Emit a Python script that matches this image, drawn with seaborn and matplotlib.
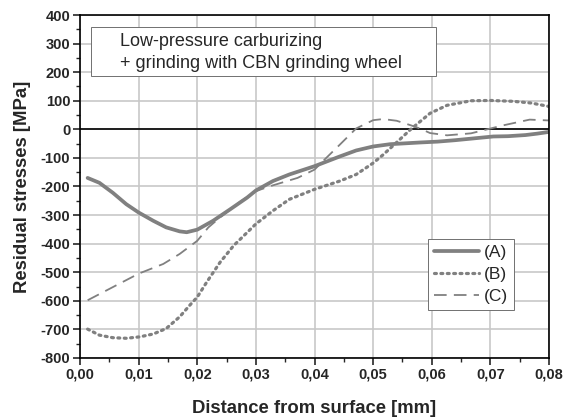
import numpy as np
import pandas as pd
import matplotlib
matplotlib.use("Agg")
import matplotlib.pyplot as plt
import matplotlib.ticker as mticker
from matplotlib.patches import Rectangle
import seaborn as sns

# ---- data (distance in mm, stress in MPa) ----
x_a = [0.0013, 0.0033, 0.0056, 0.0079, 0.0100, 0.0125, 0.0147, 0.0170, 0.0182, 0.0200,
       0.0227, 0.0256, 0.0285, 0.0300, 0.0329, 0.0357, 0.0400, 0.0443, 0.0471, 0.0500,
       0.0529, 0.0580, 0.0610, 0.0640, 0.0670, 0.0705, 0.0730, 0.0760, 0.0780, 0.0800]
y_a = [-170, -187, -222, -262, -291, -320, -343, -357, -360, -351,
       -320, -280, -239, -214, -181, -158, -129, -95, -74, -60,
       -52, -46, -43, -38, -32, -25, -24, -20, -15, -9]

x_b = [0.0013, 0.0033, 0.0056, 0.0079, 0.0102, 0.0125, 0.0147, 0.0170, 0.0187, 0.0200,
       0.0216, 0.0239, 0.0262, 0.0285, 0.0300, 0.0329, 0.0357, 0.0400, 0.0443, 0.0471,
       0.0500, 0.0517, 0.0540, 0.0563, 0.0597, 0.0626, 0.0667, 0.0700, 0.0739, 0.0770,
       0.0800]
y_b = [-699, -720, -729, -731, -726, -716, -697, -656, -616, -587,
       -535, -465, -407, -361, -331, -285, -245, -210, -181, -158,
       -118, -89, -46, -2, 56, 84, 100, 101, 98, 92,
       80]

x_c = [0.0013, 0.0056, 0.0100, 0.0142, 0.0170, 0.0200, 0.0219, 0.0235, 0.0270, 0.0300,
       0.0329, 0.0371, 0.0400, 0.0420, 0.0443, 0.0471, 0.0500, 0.0517, 0.0540, 0.0563,
       0.0580, 0.0597, 0.0626, 0.0667, 0.0722, 0.0767, 0.0800]
y_c = [-598, -552, -505, -471, -436, -390, -343, -315, -258, -216,
       -196, -170, -141, -100, -54, 3, 32, 36, 30, 15,
       3, -13, -21, -14, 14, 34, 31]

labels = ["(A)", "(B)", "(C)"]
note = "Low-pressure carburizing\n+ grinding with CBN grinding wheel"

df = pd.concat([
    pd.DataFrame({"x": x_a, "y": y_a, "series": labels[0]}),
    pd.DataFrame({"x": x_b, "y": y_b, "series": labels[1]}),
    pd.DataFrame({"x": x_c, "y": y_c, "series": labels[2]}),
])

sns.set_style("white")
plt.rcParams["font.family"] = ["Liberation Sans", "DejaVu Sans"]

fig = plt.figure(figsize=(5.65, 4.19), dpi=100)
ax = fig.add_axes([0.1416, 0.1456, 0.8301, 0.8186])

gray = "#808080"
styles = {
    "(A)": dict(lw=2.7, ls="-"),
    "(B)": dict(lw=2.3, ls=(0, (0.6, 1.4)), dash_capstyle="round"),
    "(C)": dict(lw=1.3, ls=(0, (7, 4))),
}
for lab in labels:
    sub = df[df["series"] == lab]
    sns.lineplot(data=sub, x="x", y="y", ax=ax, color=gray, label=lab,
                 estimator=None, sort=False, **styles[lab])

ax.axhline(0, color="black", lw=1.2, zorder=1)

ax.set_xlim(0, 0.08)
ax.set_ylim(-800, 400)
ax.xaxis.set_major_locator(mticker.MultipleLocator(0.01))
ax.xaxis.set_minor_locator(mticker.MultipleLocator(0.005))
ax.yaxis.set_major_locator(mticker.MultipleLocator(100))
ax.yaxis.set_minor_locator(mticker.MultipleLocator(50))
ax.xaxis.set_major_formatter(mticker.FuncFormatter(lambda v, p: f"{v:.2f}".replace(".", ",")))
ax.yaxis.set_major_formatter(mticker.FuncFormatter(lambda v, p: f"{v:.0f}"))

ax.grid(True, which="major", color="#c8c8c8", lw=1.2, zorder=0)
ax.set_axisbelow(True)
for s in ax.spines.values():
    s.set_color("black")
    s.set_linewidth(1.2)

ax.tick_params(axis="both", which="major", direction="out", length=5, width=1.2,
               labelsize=10.5, bottom=True, left=True, pad=2)
ax.tick_params(axis="both", which="minor", direction="out", length=3, width=1.0,
               bottom=True, left=True)
for t in ax.get_xticklabels() + ax.get_yticklabels():
    t.set_fontweight("bold")

ax.set_xlabel("Distance from surface [mm]", fontsize=13.3, fontweight="bold", labelpad=13)
ax.set_ylabel("Residual stresses [MPa]", fontsize=13.3, fontweight="bold", labelpad=7)

# annotation box
ax.add_patch(Rectangle((0.0235, 0.822), 0.7355, 0.143, transform=ax.transAxes,
                       fc="white", ec="#707070", lw=0.7, zorder=5))
ax.text(0.0853, 0.8900, note, transform=ax.transAxes, fontsize=13, va="center",
        ha="left", linespacing=1.35, zorder=6)

leg = ax.legend(loc="lower right", bbox_to_anchor=(0.925, 0.14), fontsize=12.5,
                frameon=True, fancybox=False, edgecolor="#707070", framealpha=1,
                handlelength=2.6, handletextpad=0.25, borderpad=0.35, labelspacing=0.38,
                borderaxespad=0)
leg.get_frame().set_linewidth(0.7)

fig.savefig("out.png", dpi=100)
